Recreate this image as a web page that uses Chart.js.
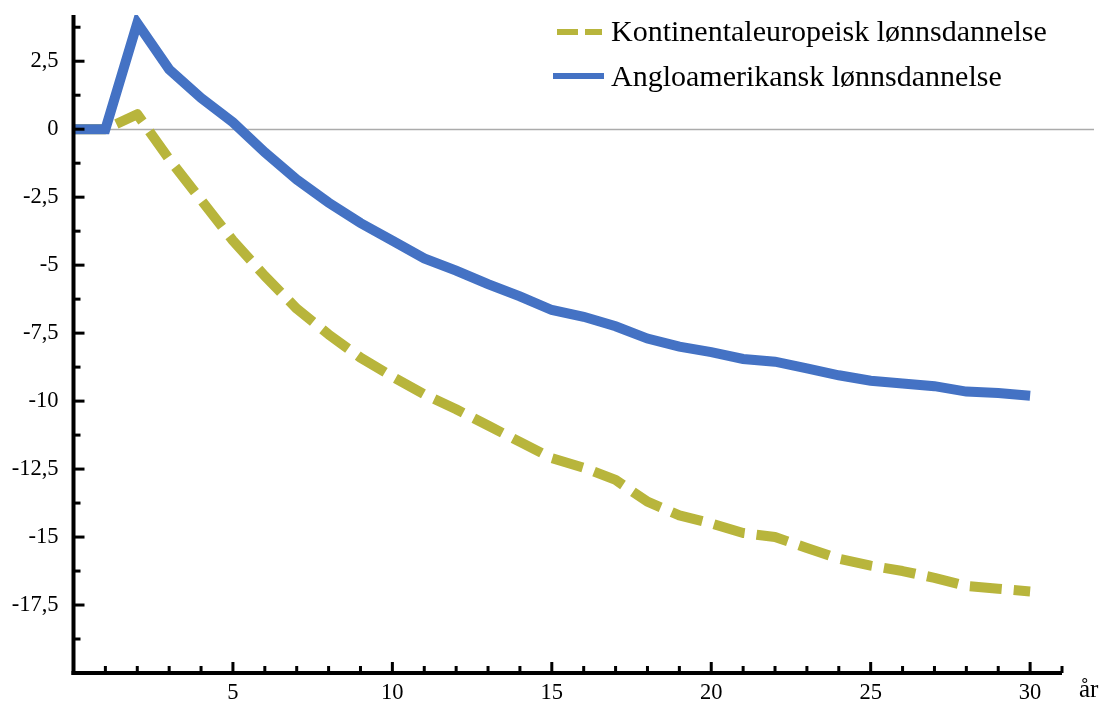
<!DOCTYPE html>
<html>
<head>
<meta charset="utf-8">
<script src="https://cdn.jsdelivr.net/npm/chart.js@4/dist/chart.umd.min.js"></script>
<style>
html,body{margin:0;padding:0;background:#fff;}
#wrap{width:1106px;height:704px;position:relative;}
</style>
</head>
<body>
<div id="wrap"><canvas id="c" width="1106" height="704"></canvas></div>
<script>
const years = [0,1,2,3,4,5,6,7,8,9,10,11,12,13,14,15,16,17,18,19,20,21,22,23,24,25,26,27,28,29,30];
const continental = [0,0,0.55,-1.1,-2.6,-4.1,-5.4,-6.6,-7.55,-8.4,-9.1,-9.75,-10.3,-10.9,-11.5,-12.1,-12.45,-12.9,-13.7,-14.2,-14.5,-14.85,-15.0,-15.4,-15.8,-16.05,-16.25,-16.5,-16.8,-16.9,-17.0];
const anglo = [0,0,3.9,2.2,1.15,0.25,-0.85,-1.85,-2.7,-3.45,-4.1,-4.75,-5.2,-5.7,-6.15,-6.65,-6.9,-7.25,-7.7,-8.0,-8.2,-8.45,-8.55,-8.8,-9.05,-9.25,-9.35,-9.45,-9.65,-9.7,-9.8];
const seriesNames = ['Kontinentaleuropeisk lønnsdannelse','Angloamerikansk lønnsdannelse'];
const xTickLabels = [5,10,15,20,25,30];
const yTickLabels = [2.5,0,-2.5,-5,-7.5,-10,-12.5,-15,-17.5];
const xAxisTitle = 'år';

const GREEN = '#B8B53C', BLUE = '#4472C4';
const FONT = '"Liberation Serif", "Times New Roman", serif';

const axesPlugin = {
  id: 'axesPlugin',
  beforeDatasetsDraw(chart) {
    const {ctx, chartArea: a, scales: {x, y}} = chart;
    ctx.save();
    ctx.strokeStyle = '#ababab';
    ctx.lineWidth = 1.5;
    const y0 = Math.round(y.getPixelForValue(0)) + 0.5;
    ctx.beginPath(); ctx.moveTo(a.left, y0); ctx.lineTo(a.right + 32, y0); ctx.stroke();
    ctx.restore();
  },
  afterDraw(chart) {
    const {ctx, chartArea: a, scales: {x, y}} = chart;
    ctx.save();
    ctx.fillStyle = '#000';
    const axX = a.left, axY = a.bottom;
    ctx.fillRect(axX - 2, a.top, 4, a.bottom - a.top + 2);
    ctx.fillRect(axX - 2, axY - 2, a.right - axX + 2, 4);
    for (let v = -20; v <= y.max + 1e-9; v += 1.25) {
      const py = y.getPixelForValue(v);
      const major = Math.abs(v / 2.5 - Math.round(v / 2.5)) < 1e-6;
      if (Math.abs(v + 20) < 1e-6) continue;
      ctx.fillRect(axX, py - 1.5, major ? 11 : 7, 3);
    }
    for (let v = 1; v <= x.max + 1e-9; v += 1) {
      const px = x.getPixelForValue(v);
      const major = v % 5 === 0;
      ctx.fillRect(px - 1.5, axY - (major ? 11 : 7), 3, major ? 11 : 7);
    }
    ctx.font = '25px ' + FONT;
    ctx.textAlign = 'left';
    ctx.textBaseline = 'middle';
    ctx.fillText(xAxisTitle, a.right + 17, 690);
    const ds = chart.data.datasets;
    ctx.font = '30px ' + FONT;
    ctx.textBaseline = 'middle';
    const ly = [32, 76];
    ctx.fillStyle = ds[0].borderColor;
    ctx.fillRect(557, ly[0] - 3, 21, 6);
    ctx.fillRect(585, ly[0] - 3, 17, 6);
    ctx.fillStyle = ds[1].borderColor;
    ctx.fillRect(553, ly[1] - 3, 51, 6);
    ctx.fillStyle = '#000';
    ctx.fillText(ds[0].label, 611, ly[0] + 1);
    ctx.fillText(ds[1].label, 611, ly[1] + 2);
    ctx.restore();
  }
};

new Chart(document.getElementById('c'), {
  type: 'line',
  data: {
    labels: years,
    datasets: [
      { label: seriesNames[0], data: years.map((x,i)=>({x, y: continental[i]})), borderColor: GREEN, borderWidth: 10, borderDash: [32, 12], borderCapStyle: 'butt', borderJoinStyle: 'round', pointRadius: 0, tension: 0, fill: false, order: 2 },
      { label: seriesNames[1], data: years.map((x,i)=>({x, y: anglo[i]})), borderColor: BLUE, borderWidth: 10, borderCapStyle: 'butt', borderJoinStyle: 'miter', pointRadius: 0, tension: 0, fill: false, order: 1 }
    ]
  },
  options: {
    responsive: false,
    animation: false,
    events: [],
    layout: { padding: { top: 15, right: 44, left: 0, bottom: 0 } },
    plugins: { legend: { display: false }, tooltip: { enabled: false } },
    scales: {
      x: {
        type: 'linear', min: 0, max: 31,
        border: { display: false },
        grid: { display: true, drawOnChartArea: false, drawTicks: false, color: 'rgba(0,0,0,0)' },
        afterBuildTicks(s) { s.ticks = xTickLabels.map(v => ({ value: v })); },
        afterFit(s) { s.height = 31; s.paddingLeft = 0; s.paddingRight = 0; },
        ticks: { color: '#000', padding: 7, maxRotation: 0, font: { family: FONT, size: 22.5 }, callback: v => String(v) }
      },
      y: {
        type: 'linear', min: -20, max: 4.2,
        border: { display: false },
        grid: { display: true, drawOnChartArea: false, drawTicks: false, color: 'rgba(0,0,0,0)' },
        afterBuildTicks(s) { s.ticks = yTickLabels.map(v => ({ value: v })); },
        afterFit(s) { s.width = 73.5; s.paddingTop = 0; s.paddingBottom = 0; },
        ticks: { color: '#000', padding: 15, font: { family: FONT, size: 22.5 }, callback: v => String(v).replace('.', ',') }
      }
    }
  },
  plugins: [axesPlugin]
});
</script>
</body>
</html>
